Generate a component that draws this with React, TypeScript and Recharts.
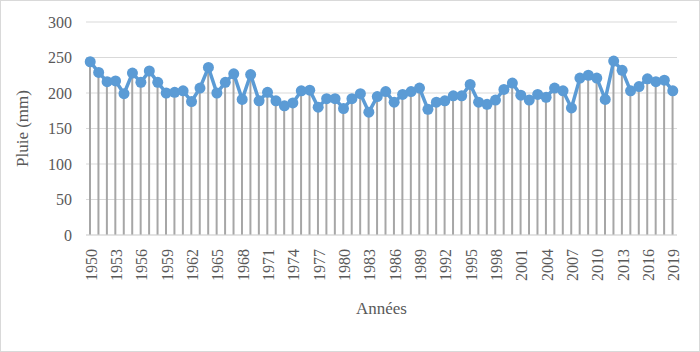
import { Bar, CartesianGrid, ComposedChart, Line, XAxis, YAxis } from "recharts";

const years: number[] = [
  1950, 1951, 1952, 1953, 1954, 1955, 1956, 1957, 1958, 1959,
  1960, 1961, 1962, 1963, 1964, 1965, 1966, 1967, 1968, 1969,
  1970, 1971, 1972, 1973, 1974, 1975, 1976, 1977, 1978, 1979,
  1980, 1981, 1982, 1983, 1984, 1985, 1986, 1987, 1988, 1989,
  1990, 1991, 1992, 1993, 1994, 1995, 1996, 1997, 1998, 1999,
  2000, 2001, 2002, 2003, 2004, 2005, 2006, 2007, 2008, 2009,
  2010, 2011, 2012, 2013, 2014, 2015, 2016, 2017, 2018, 2019,
];

// pluie annuelle (mm)
const rain: number[] = [
  244, 229, 216, 217, 199, 228, 215, 231, 215, 200,
  201, 203, 188, 207, 236, 200, 215, 227, 191, 226,
  189, 201, 189, 182, 186, 203, 204, 180, 192, 192,
  178, 192, 199, 173, 195, 202, 187, 198, 202, 207,
  177, 187, 189, 196, 196, 212, 187, 184, 190, 205,
  214, 197, 190, 198, 194, 207, 203, 179, 221, 225,
  221, 191, 245, 232, 203, 209, 220, 216, 218, 203,
];

const yTicks: number[] = [0, 50, 100, 150, 200, 250, 300];

const data = years.map((y, i) => ({ year: String(y), rain: rain[i] }));

const FONT = "Liberation Serif, Times New Roman, serif";
const TEXT = "#595959";

const YearTick = (props: any) => {
  const { x, y, payload } = props;
  const tx = x + 1;
  const ty = y + 6;
  return (
    <text
      x={tx}
      y={ty}
      transform={`rotate(-90 ${tx} ${ty})`}
      textAnchor="end"
      dominantBaseline="central"
      fill={TEXT}
      style={{ fontFamily: FONT, fontSize: 16 }}
    >
      {payload.value}
    </text>
  );
};

const YTitle = (props: any) => {
  const { viewBox } = props;
  const cx = viewBox.x + 22;
  const cy = viewBox.y + viewBox.height / 2;
  return (
    <text
      x={cx}
      y={cy}
      transform={`rotate(-90 ${cx} ${cy})`}
      textAnchor="middle"
      dominantBaseline="central"
      fill={TEXT}
      style={{ fontFamily: FONT, fontSize: 17 }}
    >
      Pluie (mm)
    </text>
  );
};

const XTitle = (props: any) => {
  const { viewBox } = props;
  const cx = viewBox.x + viewBox.width / 2;
  const cy = viewBox.y + viewBox.height - 12;
  return (
    <text
      x={cx}
      y={cy}
      textAnchor="middle"
      dominantBaseline="central"
      fill={TEXT}
      style={{ fontFamily: FONT, fontSize: 17 }}
    >
      Années
    </text>
  );
};

export default function App() {
  return (
    <div style={{ position: "absolute", left: 0, top: 0, width: 700, height: 352, background: "#fff", fontFamily: FONT }}>
      <ComposedChart
        width={700}
        height={352}
        data={data}
        margin={{ top: 22, right: 23, left: 0, bottom: 32 }}
        barCategoryGap={0}
      >
        <CartesianGrid vertical={false} stroke="#d9d9d9" strokeWidth={1} />
        <XAxis
          dataKey="year"
          interval={2}
          height={85}
          tickLine={false}
          axisLine={{ stroke: "#d9d9d9", strokeWidth: 1 }}
          tick={<YearTick />}
          label={<XTitle />}
        />
        <YAxis
          width={86}
          domain={[0, 300]}
          ticks={yTicks}
          axisLine={false}
          tickLine={false}
          tickMargin={8}
          tick={{ fill: TEXT, fontSize: 16, style: { fontFamily: FONT } }}
          label={<YTitle />}
        />
        <Bar dataKey="rain" barSize={2} fill="#a6a6a6" isAnimationActive={false} />
        <Line
          dataKey="rain"
          stroke="#5b9bd5"
          strokeWidth={3.5}
          dot={{ r: 5.5, fill: "#5b9bd5", stroke: "#5b9bd5", strokeWidth: 0 }}
          activeDot={false}
          isAnimationActive={false}
        />
      </ComposedChart>
      <div
        style={{
          position: "absolute",
          left: 0,
          top: 0,
          width: 700,
          height: 352,
          boxSizing: "border-box",
          border: "1px solid #d9d9d9",
          pointerEvents: "none",
        }}
      />
    </div>
  );
}
